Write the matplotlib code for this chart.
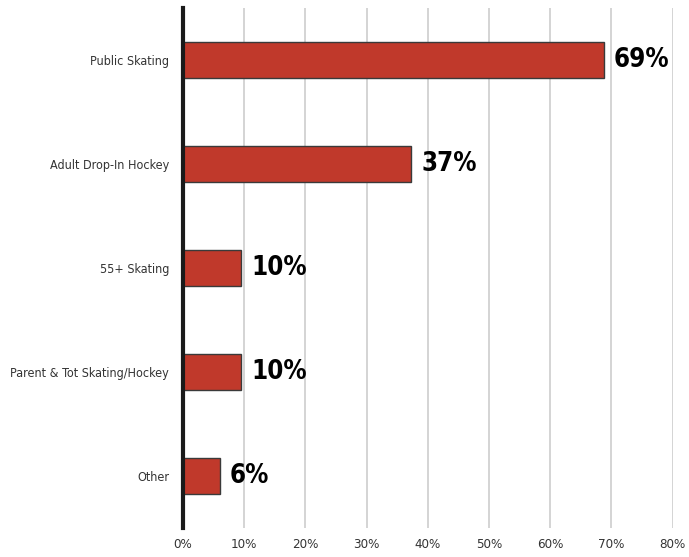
import matplotlib
matplotlib.use("Agg")
import matplotlib.pyplot as plt
from matplotlib.ticker import FuncFormatter, MultipleLocator

categories = ["Public Skating", "Adult Drop-In Hockey", "55+ Skating",
              "Parent & Tot Skating/Hockey", "Other"]
values = [69, 37, 10, 10, 6]
bar_values = [68.8, 37.3, 9.5, 9.5, 6.0]

plt.rcParams['font.family'] = ['DejaVu Sans']
plt.rcParams['font.stretch'] = 'condensed'

fig = plt.figure(figsize=(6.89, 5.57), dpi=100)
ax = fig.add_axes([0.2656, 0.052, 0.7105, 0.9336])

y = list(range(len(categories)))
ax.barh(y, bar_values, height=0.35, color="#C0392B", edgecolor="#3a3a3a",
        linewidth=1.0, zorder=3)
for yi, bv, v in zip(y, bar_values, values):
    ax.text(bv + 1.6, yi, f"{v}%", va="center", ha="left", fontsize=18.5,
            fontweight="bold", color="black", zorder=4, fontstretch='condensed')

ax.set_xlim(0, 80)
ax.set_ylim(4.5, -0.5)
ax.set_yticks(y)
ax.set_yticklabels(categories, fontsize=9, color="#333333", fontstretch='condensed')
ax.xaxis.set_major_locator(MultipleLocator(10))
ax.xaxis.set_major_formatter(FuncFormatter(lambda v, p: f"{v:.0f}%"))
for lab in ax.get_xticklabels():
    lab.set_fontstretch('condensed')
ax.tick_params(axis="x", labelsize=9.5, colors="#333333", length=0, pad=7)
ax.tick_params(axis="y", length=0, pad=10)
ax.grid(axis="x", color="#d4d4d4", linewidth=1.4, zorder=0)
ax.set_axisbelow(True)
for s in ["top", "right", "bottom"]:
    ax.spines[s].set_visible(False)
ax.spines["left"].set_linewidth(3)
ax.spines["left"].set_color("#1a1a1a")
ax.spines["left"].set_zorder(5)

fig.savefig("out.png", dpi=100)
